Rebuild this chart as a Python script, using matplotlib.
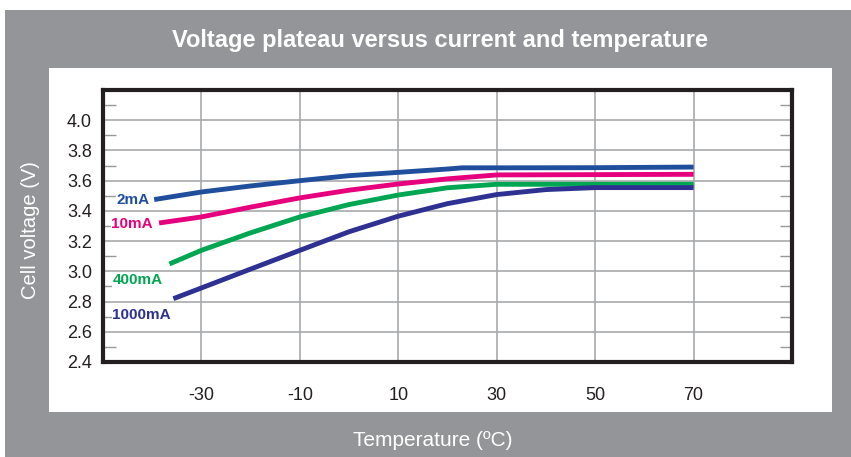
import matplotlib.pyplot as plt
from matplotlib.patches import Rectangle
from matplotlib.ticker import MultipleLocator

plt.rcParams['font.family'] = ['Liberation Sans', 'DejaVu Sans']
plt.rcParams['axes.unicode_minus'] = False

# du lieu doc tu hinh
temp_2mA = [-39.6, -30, -20, -10, 0, 10, 20, 23, 30, 50, 70]
volt_2mA = [3.475, 3.525, 3.565, 3.60, 3.633, 3.655, 3.677, 3.685, 3.685, 3.686, 3.69]

temp_10mA = [-38.6, -30, -20, -10, 0, 10, 20, 30, 50, 70]
volt_10mA = [3.32, 3.36, 3.425, 3.486, 3.537, 3.578, 3.612, 3.638, 3.64, 3.642]

temp_400mA = [-36.5, -30, -20, -10, 0, 10, 20, 30, 50, 70]
volt_400mA = [3.049, 3.139, 3.255, 3.36, 3.442, 3.505, 3.553, 3.576, 3.576, 3.576]

temp_1000mA = [-35.7, -30, -20, -10, 0, 10, 20, 30, 40, 50, 70]
volt_1000mA = [2.819, 2.89, 3.015, 3.139, 3.262, 3.365, 3.448, 3.508, 3.541, 3.554, 3.554]

nhan = ['2mA', '10mA', '400mA', '1000mA']
mau = ['#1f4e9c', '#e6007e', '#00a651', '#2e3192']
vi_tri_nhan = [(-47.3, 3.475), (-48.3, 3.315), (-48.1, 2.94), (-48.1, 2.708)]

x_ticks = [-30, -10, 10, 30, 50, 70]
y_ticks = [2.4, 2.6, 2.8, 3.0, 3.2, 3.4, 3.6, 3.8, 4.0]

W, H = 851, 457
fig = plt.figure(figsize=(W / 100, H / 100), dpi=100)
fig.patch.set_facecolor('white')

# nen xam va khung trang
fig.patches.append(Rectangle((5 / W, 0), 1 - 5 / W, 1 - 10 / H, transform=fig.transFigure,
                             facecolor='#939598', edgecolor='none', zorder=-2))
fig.patches.append(Rectangle((49 / W, 1 - 412 / H), (832 - 49) / W, (412 - 68) / H,
                             transform=fig.transFigure, facecolor='white', edgecolor='none', zorder=-1))

ax = fig.add_axes([103 / W, 1 - 362 / H, (792 - 103) / W, (362 - 90) / H])
ax.set_xlim(-50, 90)
ax.set_ylim(2.4, 4.2)

ax.set_xticks(x_ticks)
ax.set_yticks(y_ticks)
ax.set_yticklabels(['%.1f' % v for v in y_ticks])
ax.yaxis.set_minor_locator(MultipleLocator(0.1))
ax.tick_params(axis='both', which='major', length=0, labelsize=13, colors='#231f20', pad=8)
ax.tick_params(axis='x', pad=18)
ax.tick_params(axis='y', which='minor', length=9, width=1, color='#999999',
               direction='in', left=True, right=True)
ax.grid(True, which='major', color='#a7a9ac', linewidth=1.2)
for s in ax.spines.values():
    s.set_linewidth(3)
    s.set_color('#231f20')

ax.plot(temp_2mA, volt_2mA, color=mau[0], lw=3.5, solid_capstyle='butt')
ax.plot(temp_10mA, volt_10mA, color=mau[1], lw=3.5, solid_capstyle='butt')
ax.plot(temp_400mA, volt_400mA, color=mau[2], lw=3.5, solid_capstyle='butt')
ax.plot(temp_1000mA, volt_1000mA, color=mau[3], lw=3.5, solid_capstyle='butt')

for i in range(len(nhan)):
    ax.text(vi_tri_nhan[i][0], vi_tri_nhan[i][1], nhan[i], color=mau[i], fontsize=11,
            fontweight='bold', ha='left', va='center',
            bbox=dict(facecolor='white', edgecolor='none', pad=0.5))

fig.text(440 / W, 1 - 40 / H, 'Voltage plateau versus current and temperature', color='white',
         fontsize=17, fontweight='bold', ha='center', va='center')
fig.text(30 / W, 1 - 230 / H, 'Cell voltage (V)', color='white', fontsize=14.5,
         rotation=90, ha='center', va='center')
fig.text(433 / W, 1 - 440 / H, 'Temperature (ºC)', color='white', fontsize=15,
         ha='center', va='center')

fig.savefig('out.png', dpi=100)
